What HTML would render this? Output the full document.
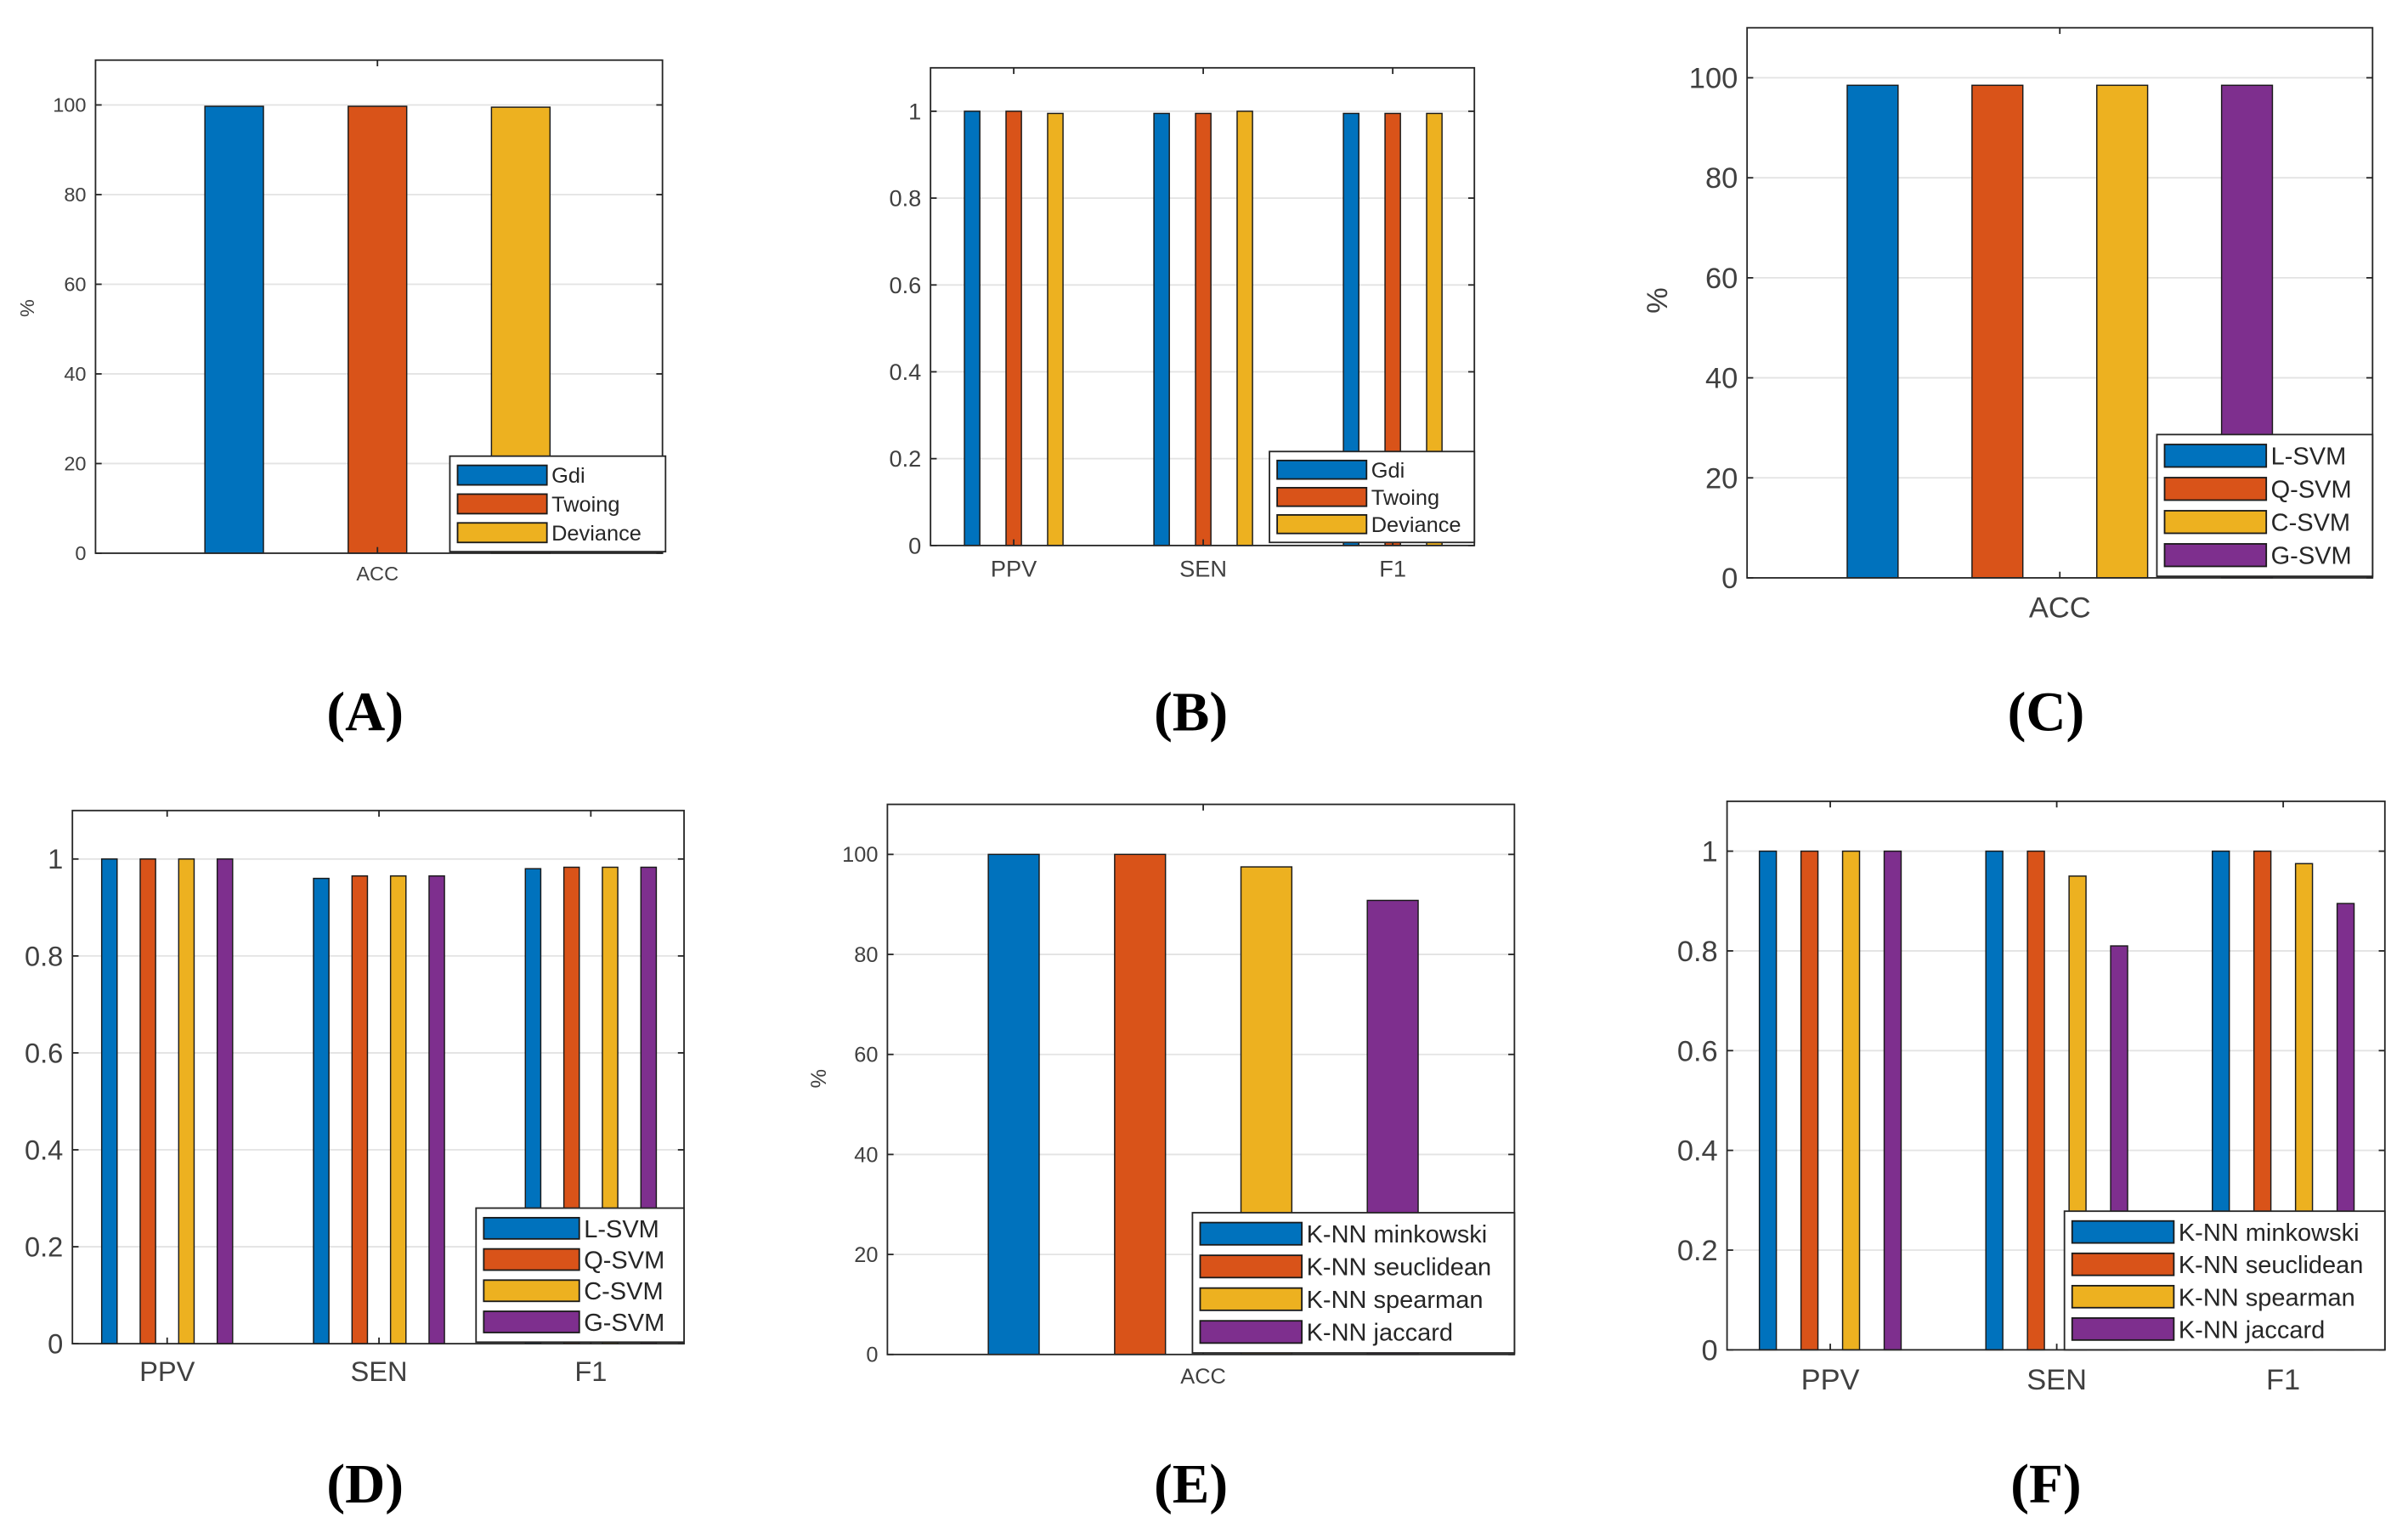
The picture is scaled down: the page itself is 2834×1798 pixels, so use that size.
<!DOCTYPE html>
<html><head><meta charset="utf-8">
<style>
html,body{margin:0;padding:0;background:#fff;}
svg{display:block;}
text{font-family:"Liberation Sans",sans-serif;}
text.serif{font-family:"Liberation Serif",serif;}
</style></head>
<body>
<svg id="fig" xmlns="http://www.w3.org/2000/svg" width="2834" height="1798" viewBox="0 0 1563 991.6">
<rect x="0" y="0" width="1563" height="991.6" fill="#fff"/>
</svg>
<script>
const NS="http://www.w3.org/2000/svg";
const colors=["#0072BD","#D95319","#EDB120","#7E2F8E"];

// Panel A data
const aCats=["ACC"];
const aSeriesNames=["Gdi","Twoing","Deviance"];
const aValues=[[99.7],[99.7],[99.5]];
const aTicks=[0,20,40,60,80,100];
// Panel B data
const bCats=["PPV","SEN","F1"];
const bSeriesNames=["Gdi","Twoing","Deviance"];
const bValues=[[1,0.995,0.995],[1,0.995,0.995],[0.995,1,0.995]];
const bTicks=[0,0.2,0.4,0.6,0.8,1];
// Panel C data
const cCats=["ACC"];
const cSeriesNames=["L-SVM","Q-SVM","C-SVM","G-SVM"];
const cValues=[[98.5],[98.5],[98.5],[98.5]];
const cTicks=[0,20,40,60,80,100];
// Panel D data
const dCats=["PPV","SEN","F1"];
const dSeriesNames=["L-SVM","Q-SVM","C-SVM","G-SVM"];
const dValues=[[1,0.96,0.98],[1,0.965,0.983],[1,0.965,0.983],[1,0.965,0.983]];
const dTicks=[0,0.2,0.4,0.6,0.8,1];
// Panel E data
const eCats=["ACC"];
const eSeriesNames=["K-NN minkowski","K-NN seuclidean","K-NN spearman","K-NN jaccard"];
const eValues=[[100],[100],[97.5],[90.8]];
const eTicks=[0,20,40,60,80,100];
// Panel F data
const fCats=["PPV","SEN","F1"];
const fSeriesNames=["K-NN minkowski","K-NN seuclidean","K-NN spearman","K-NN jaccard"];
const fValues=[[1,1,1],[1,1,1],[1,0.95,0.975],[1,0.81,0.895]];
const fTicks=[0,0.2,0.4,0.6,0.8,1];

const svg=document.getElementById('fig');
function mk(tag,attrs,parent,text){
  const e=document.createElementNS(NS,tag);
  for(const k in attrs)e.setAttribute(k,attrs[k]);
  if(text!==undefined)e.textContent=text;
  (parent||svg).appendChild(e);
  return e;
}

function panel(p){
  const g=mk('g',{});
  
  
  const {x0,x1,y0,y1,ymax}=p;
  const ys=v=>y1-(v/ymax)*(y1-y0);
  const nC=p.cats.length, nS=p.values.length;
  const cx=i=>p.catCenter(i);
  p.ticks.forEach(t=>{
    if(t===0)return;
    const gl=mk('line',{x1:x0,x2:x1,y1:ys(t),y2:ys(t),stroke:'#e3e3e3','stroke-width':1},g);
    
    
  });
  for(let s=0;s<nS;s++){
    for(let i=0;i<nC;i++){
      const c=cx(i)+(s-(nS-1)/2)*p.spacing;
      const v=p.values[s][i];
      const r=mk('rect',{x:c-p.bw/2,y:ys(v),width:p.bw,height:y1-ys(v),fill:colors[s],stroke:'#1a1a1a','stroke-width':0.8},g);
      
      
    }
  }
  const bx=mk('rect',{x:x0,y:y0,width:x1-x0,height:y1-y0,fill:'none',stroke:'#262626','stroke-width':1},g);
  
  
  p.ticks.forEach(t=>{
    mk('line',{x1:x0,x2:x0+4,y1:ys(t),y2:ys(t),stroke:'#262626','stroke-width':1},g);
    mk('line',{x1:x1,x2:x1-4,y1:ys(t),y2:ys(t),stroke:'#262626','stroke-width':1},g);
    const tl=mk('text',{x:x0-6,y:ys(t)+p.fs*0.35,'text-anchor':'end','font-size':p.fs,fill:'#404040'},g,String(t));
    
    
  });
  for(let i=0;i<nC;i++){
    mk('line',{x1:cx(i),x2:cx(i),y1:y1,y2:y1-4,stroke:'#262626','stroke-width':1},g);
    mk('line',{x1:cx(i),x2:cx(i),y1:y0,y2:y0+4,stroke:'#262626','stroke-width':1},g);
    const xl=mk('text',{x:cx(i),y:y1+p.fs*1.35,'text-anchor':'middle','font-size':p.fs,fill:'#404040'},g,p.cats[i]);
    
    
  }
  if(p.ylab){
    const yl=mk('text',{x:p.ylab[0],y:p.ylab[1],'text-anchor':'middle','font-size':p.fs,fill:'#404040',transform:`rotate(-90 ${p.ylab[0]} ${p.ylab[1]})`},g,'%');
    
    
  }
  const L=p.legend;
  const lg=mk('g',{},g);
  
  
  mk('rect',{x:L.x0,y:L.y0,width:L.x1-L.x0,height:L.y1-L.y0,fill:'#fff',stroke:'#262626','stroke-width':1},lg);
  const rowH=(L.y1-L.y0-6)/nS;
  for(let s=0;s<nS;s++){
    const cy=L.y0+3+rowH*(s+0.5);
    const e=mk('g',{},lg);
    
    
    mk('rect',{x:L.x0+5,y:cy-rowH*0.34,width:L.sw,height:rowH*0.68,fill:colors[s],stroke:'#1a1a1a','stroke-width':1},e);
    mk('text',{x:L.x0+L.sw+8,y:cy+L.fs*0.36,'font-size':L.fs,fill:'#262626'},e,p.series[s]);
  }
  const pl=mk('text',{x:p.label[0],y:p.label[1],'text-anchor':'middle','font-size':36,'font-weight':'bold',fill:'#000','class':'serif'},g,p.letter);
  
  
}

panel({name:'panel-a',letter:'(A)',label:[237,474],cats:aCats,series:aSeriesNames,values:aValues,ticks:aTicks,
  x0:62,x1:430,y0:39,y1:359,ymax:110,catCenter:i=>245,spacing:93,bw:38,fs:13,ylab:[22,200],
  legend:{x0:292,x1:432,y0:296,y1:358,sw:58,fs:14}});
panel({name:'panel-b',letter:'(B)',label:[773,474],cats:bCats,series:bSeriesNames,values:bValues,ticks:bTicks,
  x0:604,x1:957,y0:44,y1:354,ymax:1.1,catCenter:i=>658+i*123,spacing:27,bw:10,fs:15,ylab:null,
  legend:{x0:824,x1:957,y0:293,y1:352,sw:58,fs:14}});
panel({name:'panel-c',letter:'(C)',label:[1328,474],cats:cCats,series:cSeriesNames,values:cValues,ticks:cTicks,
  x0:1134,x1:1540,y0:18,y1:375,ymax:110,catCenter:i=>1337,spacing:81,bw:33,fs:19,ylab:[1082,195],
  legend:{x0:1400,x1:1540,y0:282,y1:374,sw:66,fs:16}});
panel({name:'panel-d',letter:'(D)',label:[237,975],cats:dCats,series:dSeriesNames,values:dValues,ticks:dTicks,
  x0:47,x1:444,y0:526,y1:872,ymax:1.1,catCenter:i=>108.5+i*137.5,spacing:25,bw:10,fs:18,ylab:null,
  legend:{x0:309,x1:444,y0:784,y1:871,sw:62,fs:16}});
panel({name:'panel-e',letter:'(E)',label:[773,975],cats:eCats,series:eSeriesNames,values:eValues,ticks:eTicks,
  x0:576,x1:983,y0:522,y1:879,ymax:110,catCenter:i=>781,spacing:82,bw:33,fs:14,ylab:[536,700],
  legend:{x0:774,x1:983,y0:787,y1:878,sw:66,fs:16}});
panel({name:'panel-f',letter:'(F)',label:[1328,975],cats:fCats,series:fSeriesNames,values:fValues,ticks:fTicks,
  x0:1121,x1:1548,y0:520,y1:876,ymax:1.1,catCenter:i=>1188+i*147,spacing:27,bw:11,fs:19,ylab:null,
  legend:{x0:1340,x1:1548,y0:786,y1:876,sw:66,fs:16}});
</script>
</body></html>
